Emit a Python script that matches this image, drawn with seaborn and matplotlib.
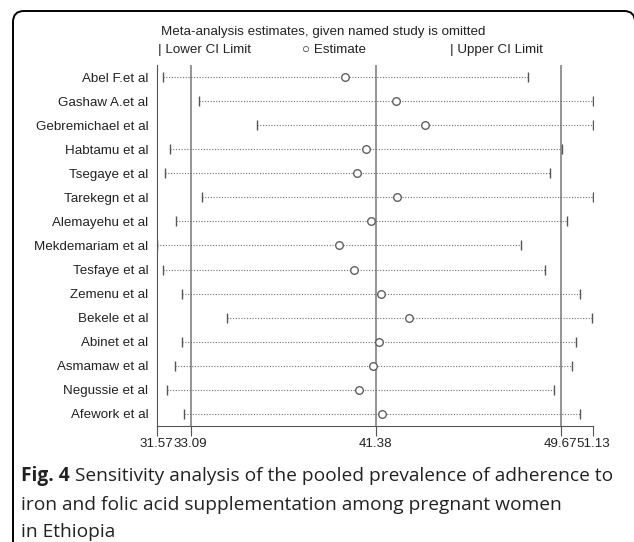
import numpy as np
import pandas as pd
import matplotlib
matplotlib.use("Agg")
import matplotlib.pyplot as plt
import seaborn as sns
from matplotlib.patches import FancyBboxPatch
from matplotlib.transforms import IdentityTransform

studies = ["Abel F.et al", "Gashaw A.et al", "Gebremichael et al", "Habtamu et al",
           "Tsegaye et al", "Tarekegn et al", "Alemayehu et al", "Mekdemariam et al",
           "Tesfaye et al", "Zemenu et al", "Bekele et al", "Abinet et al",
           "Asmamaw et al", "Negussie et al", "Afework et al"]
estimate = [40.02, 42.29, 43.58, 40.93, 40.54, 42.32, 41.18, 39.72,
            40.40, 41.62, 42.89, 41.54, 41.25, 40.65, 41.66]
lower = [31.84, 33.48, 36.05, 32.17, 31.93, 33.59, 32.43, 31.57,
         31.84, 32.72, 34.73, 32.72, 32.39, 32.02, 32.81]
upper = [48.22, 51.10, 51.13, 49.73, 49.19, 51.13, 49.95, 47.89,
         48.95, 50.53, 51.09, 50.36, 50.16, 49.36, 50.53]
tick_vals = [31.57, 33.09, 41.38, 49.67, 51.13]
tick_labels = ["31.57", "33.09", "41.38", "49.67", "51.13"]
ref_lines = [33.09, 41.38, 49.67]

df = pd.DataFrame({"study": studies, "est": estimate, "lo": lower, "hi": upper})
df["row"] = np.arange(len(df))

sns.set_style("white")
plt.rcParams["font.family"] = ["Liberation Sans", "DejaVu Sans"]

fig = plt.figure(figsize=(6.34, 5.42), dpi=100)
ax = fig.add_axes([156.7 / 634, 1 - 426 / 542, (593.3 - 156.7) / 634, 361 / 542])

for v in ref_lines:
    ax.axvline(v, color="#8c8c8c", lw=1.3, zorder=1)

ax.hlines(df["row"], df["lo"], df["hi"], color="#6e6e6e", lw=0.8,
          linestyles=(0, (1, 1.5)), zorder=2)
sns.scatterplot(data=df, x="lo", y="row", marker="|", s=50, color="#555555",
                linewidth=1.0, ax=ax, zorder=3, legend=False)
sns.scatterplot(data=df, x="hi", y="row", marker="|", s=50, color="#555555",
                linewidth=1.0, ax=ax, zorder=3, legend=False)
sns.scatterplot(data=df, x="est", y="row", marker="o", s=30, facecolor="white",
                edgecolor="#606060", linewidth=1.0, ax=ax, zorder=4, legend=False)

ax.set_xlim(31.57, 51.13)
ax.set_ylim(14.5, -0.5)
ax.set_yticks(df["row"])
ax.set_yticklabels(studies, fontsize=9.6, color="#222222")
ax.tick_params(axis="y", length=0, pad=6, left=False)
ax.set_xticks(tick_vals)
ax.set_xticklabels(tick_labels, fontsize=9.6, color="#222222")
ax.tick_params(axis="x", bottom=True, length=7, width=0.8, color="#555555",
               pad=1.5, direction="out")
ax.set_xlabel("")
ax.set_ylabel("")
for s in ["top", "right"]:
    ax.spines[s].set_visible(False)
for s in ["left", "bottom"]:
    ax.spines[s].set_color("#555555")
    ax.spines[s].set_linewidth(0.8)

hdr = dict(fontsize=9.6, va="center", ha="left", color="#222222")
fig.text(161 / 634, 1 - 32 / 542, "Meta-analysis estimates, given named study is omitted", **hdr)
fig.text(158 / 634, 1 - 50 / 542, "| Lower CI Limit", **hdr)
fig.text(302 / 634, 1 - 50 / 542, "\u25cb Estimate", **hdr)
fig.text(450 / 634, 1 - 50 / 542, "| Upper CI Limit", **hdr)

cap_font = ["Open Sans", "DejaVu Sans"]
cap = dict(fontsize=13.8, family=cap_font, va="center", ha="left", color="#222222")
t = fig.text(21 / 634, 1 - 476 / 542, "Fig. 4", fontweight="bold", **cap)
fig.canvas.draw()
bb = t.get_window_extent()
fig.text((bb.x1 + 5) / 634, 1 - 476 / 542,
         "Sensitivity analysis of the pooled prevalence of adherence to", **cap)
fig.text(21 / 634, 1 - 505 / 542, "iron and folic acid supplementation among pregnant women", **cap)
fig.text(21 / 634, 1 - 532 / 542, "in Ethiopia", **cap)

# rounded card frame, in pixels (bottom-left origin)
card = FancyBboxPatch((13, -60), 622, 542 - 11 + 60,
                      boxstyle="round,pad=0,rounding_size=11",
                      transform=IdentityTransform(), fill=False, ec="black", lw=1.4)
fig.patches.append(card)

fig.savefig("out.png", dpi=100)
